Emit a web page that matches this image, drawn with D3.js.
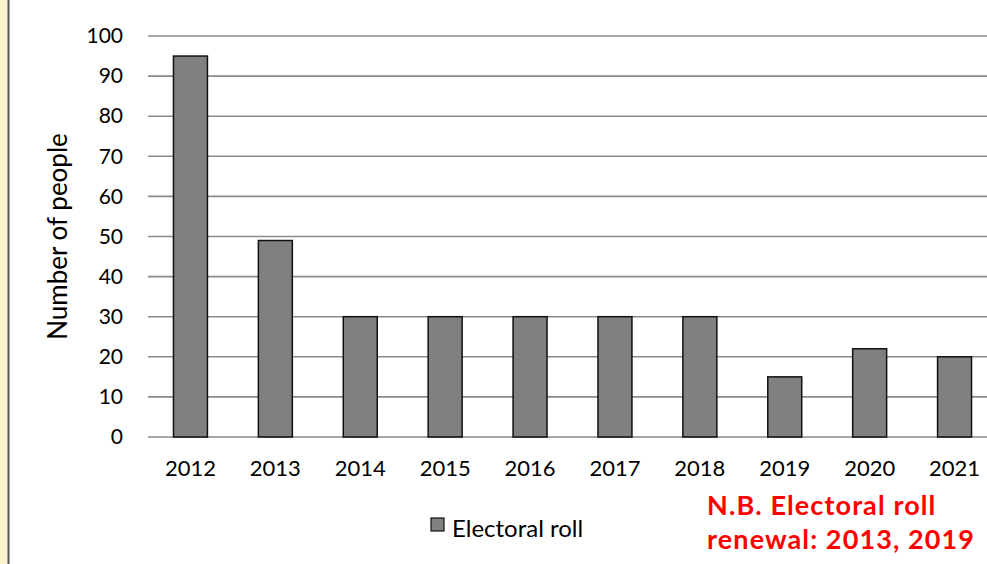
<!DOCTYPE html>
<html>
<head>
<meta charset="utf-8">
<script src="https://cdn.jsdelivr.net/npm/d3@7"></script>
<style>
  body { margin: 0; background: #fff; }
  svg { display: block; font-family: Lato, "Open Sans", sans-serif; }
</style>
</head>
<body>
<div class="canvas"></div>
<script>
const years = ['2012', '2013', '2014', '2015', '2016', '2017', '2018', '2019', '2020', '2021'];
const electoralRoll = [95, 49, 30, 30, 30, 30, 30, 15, 22, 20];
const yTicks = [0, 10, 20, 30, 40, 50, 60, 70, 80, 90, 100];
const seriesName = 'Electoral roll';
const noteLines = ['N.B. Electoral roll', 'renewal: 2013, 2019'];

const svgDims = { width: 987, height: 564 };
const margin = { top: 36, right: -10, bottom: 127, left: 148 };
const graphWidth = svgDims.width - margin.left - margin.right;
const graphHeight = svgDims.height - margin.top - margin.bottom;

const svg = d3.select('.canvas')
    .append('svg')
    .attr('width', svgDims.width)
    .attr('height', svgDims.height);

// frame on the left edge
svg.append('rect')
    .attr('x', 0).attr('y', 0)
    .attr('width', 8).attr('height', svgDims.height)
    .attr('fill', '#fdf4cf');
svg.append('line')
    .attr('x1', 8.5).attr('x2', 8.5)
    .attr('y1', 0).attr('y2', svgDims.height)
    .attr('stroke', '#555').attr('stroke-width', 2);

const graph = svg.append('g')
    .attr('transform', `translate(${margin.left}, ${margin.top})`);

const x = d3.scaleBand()
    .domain(years)
    .range([0, graphWidth])
    .paddingInner(0.6)
    .paddingOuter(0.3);

const y = d3.scaleLinear()
    .domain([0, 100])
    .range([graphHeight, 0]);

// gridlines
graph.append('g')
    .selectAll('line')
    .data(yTicks)
    .enter()
    .append('line')
        .attr('x1', 0)
        .attr('x2', graphWidth)
        .attr('y1', d => y(d))
        .attr('y2', d => y(d))
        .attr('stroke', '#8a8a8a')
        .attr('stroke-width', 1.6);

// y axis labels
const yAxis = d3.axisLeft(y)
    .tickValues(yTicks)
    .tickSize(0)
    .tickPadding(25);
const yAxisGroup = graph.append('g').call(yAxis);
yAxisGroup.select('.domain').remove();
yAxisGroup.selectAll('text')
    .attr('font-size', 21)
    .attr('fill', '#000')
    .style('font-family', 'Lato, sans-serif');

// x axis labels
const xAxis = d3.axisBottom(x).tickSize(0).tickPadding(23);
const xAxisGroup = graph.append('g')
    .attr('transform', `translate(0, ${graphHeight})`)
    .call(xAxis);
xAxisGroup.select('.domain').remove();
xAxisGroup.selectAll('text')
    .attr('font-size', 22)
    .attr('fill', '#000')
    .style('font-family', 'Lato, sans-serif');

// bars
graph.selectAll('rect.bar')
    .data(electoralRoll)
    .enter()
    .append('rect')
        .attr('class', 'bar')
        .attr('x', (d, i) => x(years[i]))
        .attr('y', d => y(d))
        .attr('width', x.bandwidth())
        .attr('height', d => graphHeight - y(d))
        .attr('fill', '#808080')
        .attr('stroke', '#111')
        .attr('stroke-width', 1.5);

// y title
svg.append('text')
    .attr('transform', `translate(67, ${margin.top + graphHeight / 2}) rotate(-90)`)
    .attr('text-anchor', 'middle')
    .attr('font-size', 26)
    .text('Number of people');

// legend
const legend = svg.append('g').attr('transform', 'translate(431, 518)');
legend.append('rect')
    .attr('width', 13).attr('height', 13)
    .attr('fill', '#808080')
    .attr('stroke', '#111').attr('stroke-width', 1.2);
legend.append('text')
    .attr('x', 21).attr('y', 19)
    .attr('font-size', 24)
    .text(seriesName);

// note
svg.append('g')
    .selectAll('text')
    .data(noteLines)
    .enter()
    .append('text')
        .attr('x', 707)
        .attr('y', (d, i) => 515 + i * 34)
        .attr('font-size', 27)
        .attr('font-weight', 'bold')
        .attr('letter-spacing', 1.1)
        .attr('fill', '#ff0000')
        .text(d => d);
</script>
</body>
</html>
